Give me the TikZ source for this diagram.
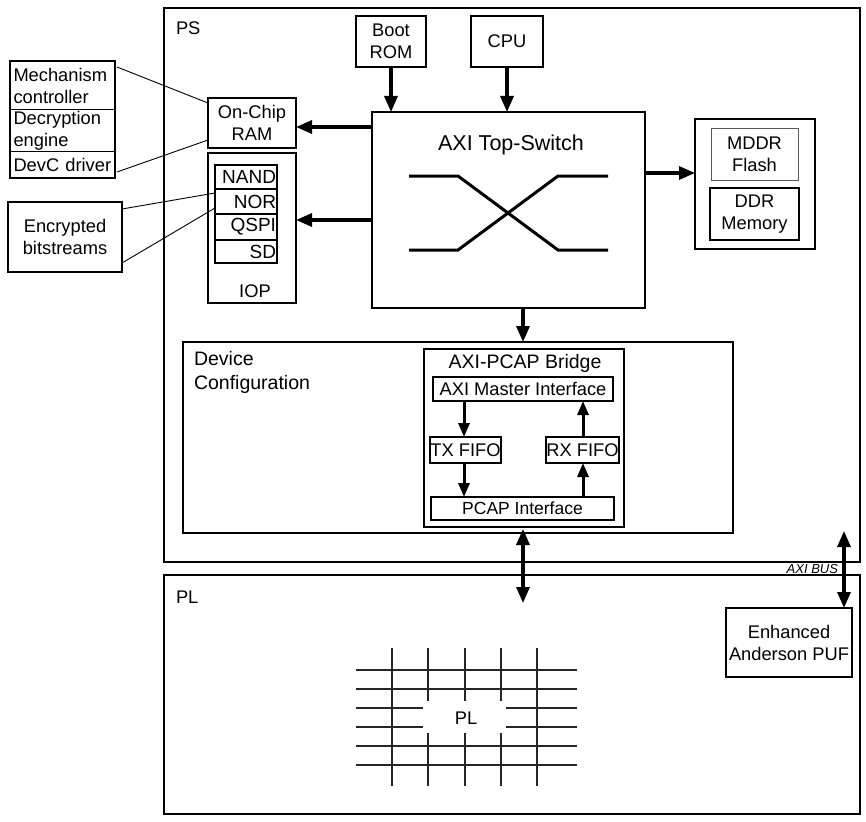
\documentclass[tikz,border=0pt]{standalone}
\usepackage{fontspec}
\setmainfont{Liberation Sans}
\usetikzlibrary{arrows.meta,calc}
\newcommand\B[7]{\node[#2, minimum width={#5-#3}, minimum height={#6-#4}] (#1) at ({(#3+#5)/2},{(#4+#6)/2}) {#7};}
\begin{document}
\begin{tikzpicture}[x=1pt,y=-1pt,
  every node/.style={font=\fontsize{18.3}{22}\selectfont, inner sep=0pt, outer sep=0pt},
  box/.style={draw, line width=2pt, align=center},
  rowbox/.style={draw, line width=1pt},
  arr/.style={line width=3.2pt, -{Triangle[length=16pt,width=13pt]}},
  sarr/.style={line width=3pt, -{Triangle[length=14pt,width=11pt]}},
  darr/.style={line width=3.2pt, {Triangle[length=16pt,width=13pt]}-{Triangle[length=16pt,width=13pt]}},
  link/.style={line width=0.9pt},
  xline/.style={line width=3pt},
  grid/.style={line width=1.2pt, black!85},
]
\useasboundingbox (0,0) rectangle (866,821);
% main regions
\B{ps}{box}{164}{8}{860}{562}{}
\B{pl}{box}{164}{575}{860}{814}{}
\node[anchor=west] (pslbl) at (176,28) {PS};
\node[anchor=west] (pllbl) at (176,597) {PL};
% left boxes
\B{mech}{rowbox, text width=98pt, align=left}{10}{61}{115}{110}{Mechanism\\controller}
\B{decr}{rowbox, text width=98pt, align=left}{10}{110}{115}{152}{Decryption\\engine}
\B{devc}{rowbox, text width=98pt, align=left}{10}{152}{115}{178}{DevC driver}
\draw[line width=2pt] (mech.north west) rectangle (devc.south east);
\B{enc}{box}{8}{202}{122}{272}{Encrypted\\bitstreams}
% on-chip RAM and IOP
\B{ocram}{box}{208}{98}{296}{148}{On-Chip\\RAM}
\B{iop}{box}{208}{153}{296}{303}{}
\node (ioplbl) at (255,291) {IOP};
\B{nand}{rowbox, line width=1.3pt, text width=60pt, align=right, font=\fontsize{19}{21}\selectfont}{215}{165}{277}{189}{NAND}
\B{nor}{rowbox, line width=1.3pt, text width=60pt, align=right, font=\fontsize{19}{21}\selectfont}{215}{189}{277}{214}{NOR}
\B{qspi}{rowbox, line width=1.3pt, text width=60pt, align=right, font=\fontsize{19}{21}\selectfont}{215}{214}{277}{240}{QSPI}
\B{sd}{rowbox, line width=1.3pt, text width=60pt, align=right, font=\fontsize{19}{21}\selectfont}{215}{240}{277}{263}{SD}
\draw[line width=2pt] (nand.north west) rectangle (sd.south east);
% links
\draw[link] ($(mech.north east)+(2,6)$) -- ($(ocram.north west)+(0,5)$);
\draw[link] ($(devc.east)+(2,7)$) -- ($(ocram.south west)+(0,-8)$);
\draw[link] ($(enc.north east)+(0,7)$) -- ($(nor.north west)+(0,4)$);
\draw[link] ($(enc.south east)+(0,-9)$) -- ($(nor.south west)+(0,-6)$);
% top
\B{boot}{box}{356}{16}{426}{67}{Boot\\ROM}
\B{cpu}{box}{471}{16}{543}{67}{CPU}
\B{axi}{box}{372}{112}{645}{308}{}
\node[font=\fontsize{21.5}{24}\selectfont] (axilbl) at (511,145) {AXI Top-Switch};
\draw[xline] (409,176) -- (458,176) -- (558,250) -- (608,250);
\draw[xline] (409,250) -- (458,250) -- (558,176) -- (608,176);
% memory
\B{mem}{box}{695}{119}{815}{249}{}
\B{mddr}{draw, line width=1pt, draw=black!65, align=center}{711}{129}{798}{180}{MDDR\\Flash}
\B{ddr}{box}{710}{188}{799}{240}{DDR\\Memory}
% arrows around AXI
\draw[arr] (boot.south) -- (boot.south |- axi.north);
\draw[arr] (cpu.south) -- (cpu.south |- axi.north);
\draw[arr] (axi.west |- 0,127) -- (ocram.east |- 0,127);
\draw[arr] (axi.west |- 0,220) -- (iop.east |- 0,220);
\draw[arr] (axi.east |- 0,173) -- (mem.west |- 0,173);
% device configuration
\B{devcfg}{box}{183}{342}{733}{533}{}
\node[anchor=north west, align=left, font=\fontsize{19.5}{24}\selectfont] (devlbl) at (194,351) {Device\\Configuration};
\draw[arr] (axi.south -| 523,0) -- (devcfg.north -| 523,0);
\B{bridge}{box}{424}{349}{624}{527}{}
\node[font=\fontsize{19.5}{22}\selectfont] (brlbl) at (525,363) {AXI-PCAP Bridge};
\B{master}{box}{433}{377}{613}{401}{AXI Master Interface}
\B{tx}{box}{431}{437}{500}{463}{TX FIFO}
\B{rx}{box}{548}{437}{617}{463}{RX FIFO}
\B{pcap}{box, font=\fontsize{17.5}{20}\selectfont}{431}{497}{614}{520}{PCAP Interface}
\draw[sarr] (master.south -| 464,0) -- (tx.north -| 464,0);
\draw[sarr] (tx.south -| 464,0) -- (pcap.north -| 464,0);
\draw[sarr] (pcap.north -| 583,0) -- (rx.south -| 583,0);
\draw[sarr] (rx.north -| 583,0) -- (master.south -| 583,0);
\draw[darr] ($(bridge.south -| 523,0)+(0,2)$) -- ($(pl.north -| 523,0)+(0,28)$);
% PUF
\B{puf}{box}{726}{608}{852}{677}{Enhanced\\Anderson PUF}
\draw[darr] ($(ps.south -| 844,0)+(0,-31)$) -- (puf.north -| 844,0);
\node[anchor=base east, font=\fontsize{13}{14}\selectfont\itshape] (bus) at (838,573) {AXI BUS};
% PL grid
\foreach \gx in {392,537} \draw[grid] (\gx,648) -- (\gx,786);
\foreach \gx in {428,465,501} {\draw[grid] (\gx,648) -- (\gx,701); \draw[grid] (\gx,733) -- (\gx,786);}
\foreach \gy in {670,689,746,765} \draw[grid] (356,\gy) -- (577,\gy);
\foreach \gy in {708,727} {\draw[grid] (356,\gy) -- (423,\gy); \draw[grid] (506,\gy) -- (577,\gy);}
\node (plgrid) at (466,718) {PL};
\end{tikzpicture}
\end{document}
